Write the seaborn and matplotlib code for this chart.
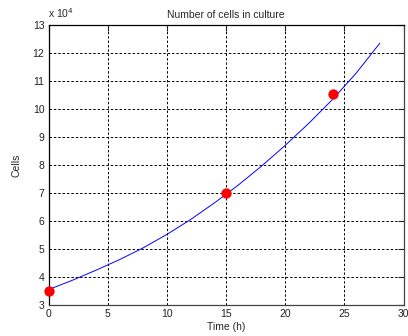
import matplotlib
matplotlib.use("Agg")
import matplotlib.pyplot as plt
import seaborn as sns
import pandas as pd
from matplotlib.ticker import FuncFormatter, MultipleLocator

# Measured data (red points)
time_obs = [0, 15, 24]
cells_obs = [35000, 70000, 105500]

# Fitted curve (blue line)
time_fit = [0, 2, 4, 6, 8, 10, 12, 14, 16, 18, 20, 22, 24, 26, 28]
cells_fit = [35500, 38800, 42400, 46200, 50400, 55200, 60500, 66400, 72700,
             79600, 87000, 94900, 103400, 112800, 123500]

title = "Number of cells in culture"
xlabel = "Time (h)"
ylabel = "Cells"

sns.set_style("white")
plt.rcParams['font.family'] = ['Liberation Sans', 'DejaVu Sans']

fig = plt.figure(figsize=(4.08, 3.36), dpi=100)
ax = fig.add_axes([48.5/408, 31/336, 355/408, 280/336])

df_fit = pd.DataFrame({"t": time_fit, "c": cells_fit})
df_obs = pd.DataFrame({"t": time_obs, "c": cells_obs})

sns.lineplot(data=df_fit, x="t", y="c", ax=ax, color="#0000ff", lw=0.7, zorder=3)
sns.scatterplot(data=df_obs, x="t", y="c", ax=ax, color="#ff0000", s=55,
                edgecolor="#ff0000", linewidth=0, zorder=4, clip_on=False)

ax.set_xlim(0, 30)
ax.set_ylim(30000, 130000)
ax.xaxis.set_major_locator(MultipleLocator(5))
ax.yaxis.set_major_locator(MultipleLocator(10000))
ax.yaxis.set_major_formatter(FuncFormatter(lambda v, p: f"{v/1e4:g}"))

ax.grid(True, color="black", linestyle=(0, (2.5, 2)), linewidth=0.7)
ax.set_axisbelow(True)
for s in ax.spines.values():
    s.set_visible(True)
    s.set_linewidth(0.9)
ax.spines['left'].set_color("black")
ax.spines['top'].set_color("black")
ax.spines['bottom'].set_color("#444444")
ax.spines['right'].set_color("#444444")

ax.tick_params(direction="in", length=4, width=0.8, labelsize=7.5,
               top=True, right=True, colors="#222222", labelcolor="#222222", pad=3)

ax.set_title(title, fontsize=7.5, pad=5)
ax.set_xlabel(xlabel, fontsize=7.5, labelpad=2)
ax.set_ylabel(ylabel, fontsize=7.5, labelpad=8)

fig.text(48/408, 1 - 18/336, r"x 10$^{4}$", fontsize=7.5, ha="left", va="baseline")

fig.savefig("out.png", dpi=100)
